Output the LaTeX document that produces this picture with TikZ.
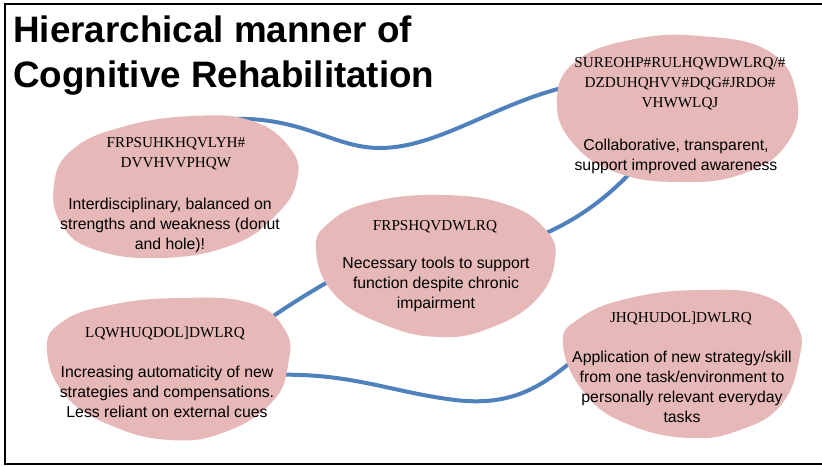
\documentclass[tikz,border=0pt]{standalone}
\usepackage{fontspec}
\setmainfont{Liberation Sans}
\newfontfamily\codefont{Liberation Serif}
\definecolor{blobpink}{HTML}{E6B8B7}
\definecolor{linkblue}{HTML}{4F81BD}
\tikzset{
  blob/.style={fill=blobpink, draw=none},
  link/.style={draw=linkblue, line width=3pt},
  head/.style={font=\codefont\fontsize{11.4}{15}\selectfont, align=center, inner sep=0pt, text=black},
  body/.style={font=\fontsize{11.85}{15}\selectfont, align=center, inner sep=0pt, text=black},
  title/.style={font=\bfseries\fontsize{27.6}{33}\selectfont, align=left, inner sep=0pt, anchor=base west},
  frame/.style={draw=black, line width=1.6pt}
}
\begin{document}
\begin{tikzpicture}[x=0.75pt, y=-0.75pt]
  \useasboundingbox (0,0) rectangle (822,467);
  \clip (0,0) rectangle (822,467);

  % outer frame (open on the right)
  \draw[frame] (830,4) -- (5,4) -- (5,464) -- (830,464);

  % connector end points
  \coordinate (l1a) at (215,120);
  \coordinate (l1b) at (575,85);
  \coordinate (l2a) at (530,240);
  \coordinate (l2b) at (635,168);
  \coordinate (l3a) at (250,333);
  \coordinate (l3b) at (345,272);
  \coordinate (l4a) at (270,375);
  \coordinate (l4b) at (585,350);

  % connectors, drawn under the blobs
  \draw[link] (l1a) .. controls (300,112) and (330,148) .. (380,148)
                    .. controls (440,148) and (500,100) .. (l1b);
  \draw[link] (l2a) .. controls (575,222) and (605,200) .. (l2b);
  \draw[link] (l3a) .. controls (280,310) and (310,292) .. (l3b);
  \draw[link] (l4a) .. controls (350,372) and (390,392) .. (455,400)
                    .. controls (515,407) and (545,385) .. (l4b);

  % blobs
  \fill[blob] plot[smooth cycle, tension=0.75] coordinates {
    (557,100) (575,62) (630,40) (700,36) (770,52) (797,98) (786,145)
    (742,174) (682,182) (618,173) (572,142)};
  \fill[blob] plot[smooth cycle, tension=0.75] coordinates {
    (54,185) (72,150) (122,127) (192,116) (252,121) (290,148) (297,180)
    (276,215) (232,245) (162,258) (96,250) (62,225)};
  \fill[blob] plot[smooth cycle, tension=0.75] coordinates {
    (316,250) (330,222) (372,202) (440,195) (505,204) (545,229) (555,260)
    (536,300) (490,328) (440,337) (385,325) (335,295)};
  \fill[blob] plot[smooth cycle, tension=0.75] coordinates {
    (47,350) (62,322) (110,305) (180,298) (250,303) (285,330) (288,365)
    (272,402) (225,432) (170,440) (110,425) (65,395)};
  \fill[blob] plot[smooth cycle, tension=0.75] coordinates {
    (563,345) (580,318) (630,298) (700,290) (765,296) (797,325) (799,360)
    (781,405) (740,430) (690,438) (630,425) (586,395)};

  % title
  \node[title] (t1) at (13,43) {Hierarchical manner of};
  \node[title] (t2) at (13,88) {Cognitive Rehabilitation};

  % blob texts
  \node[head] (ha) at (680,84) {SUREOHP\#RULHQWDWLRQ/\#\\DZDUHQHVV\#DQG\#JRDO\#\\VHWWLQJ};
  \node[body] (ba) at (676,156) {Collaborative, transparent,\\support improved awareness};

  \node[head] (hb) at (176,154) {FRPSUHKHQVLYH\#\\DVVHVVPHQW};
  \node[body] (bb) at (170,225) {Interdisciplinary, balanced on\\strengths and weakness (donut\\and hole)!};

  \node[head] (hc) at (435,227) {FRPSHQVDWLRQ};
  \node[body] (bc) at (436,284) {Necessary tools to support\\function despite chronic\\impairment};

  \node[head] (hd) at (165,333) {LQWHUQDOL]DWLRQ};
  \node[body] (bd) at (167,392) {Increasing automaticity of new\\strategies and compensations.\\Less reliant on external cues};

  \node[head] (he) at (681,318) {JHQHUDOL]DWLRQ};
  \node[body] (be) at (682,387) {Application of new strategy/skill\\from one task/environment to\\personally relevant everyday\\tasks};
\end{tikzpicture}
\end{document}
